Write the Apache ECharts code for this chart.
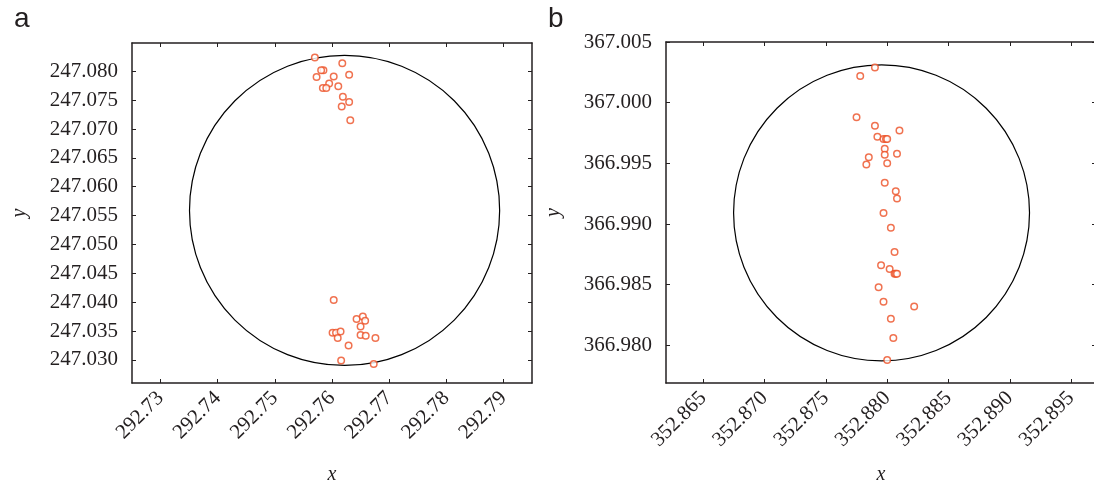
<!DOCTYPE html>
<html>
<head>
<meta charset="utf-8">
<script src="https://cdn.jsdelivr.net/npm/echarts@6/dist/echarts.min.js"></script>
<style>
  html, body { margin: 0; padding: 0; background: #fff; }
  #main { width: 1094px; height: 485px; }
</style>
</head>
<body>
<div id="main"></div>
<script>
// panel a measurements
var aPoints = [
	[292.7570, 247.0824], [292.7618, 247.0814], [292.7585, 247.0802], [292.7581, 247.0802],
	[292.7573, 247.0790], [292.7630, 247.0794], [292.7603, 247.0791], [292.7595, 247.0779],
	[292.7584, 247.0771], [292.7590, 247.0771], [292.7611, 247.0774], [292.7619, 247.0756],
	[292.7630, 247.0747], [292.7617, 247.0739], [292.7632, 247.0715],
	[292.7603, 247.0404], [292.7643, 247.0371], [292.7654, 247.0375], [292.7658, 247.0368],
	[292.7650, 247.0358], [292.7601, 247.0347], [292.7607, 247.0347], [292.7615, 247.0349],
	[292.7610, 247.0338], [292.7650, 247.0343], [292.7659, 247.0342], [292.7676, 247.0338],
	[292.7629, 247.0325], [292.7616, 247.0299], [292.7673, 247.0293]
]
var aCircle = [292.7622, 247.0559, 0.0270] // centre x, centre y, radius
var aXTicks = [292.73, 292.74, 292.75, 292.76, 292.77, 292.78, 292.79]
var aYTicks = [247.030, 247.035, 247.040, 247.045, 247.050, 247.055, 247.060, 247.065, 247.070, 247.075, 247.080]

// panel b measurements
var bPoints = [
	[352.8790, 367.0029], [352.8778, 367.0022], [352.8775, 366.9988], [352.8790, 366.9981],
	[352.8810, 366.9977], [352.8792, 366.9972], [352.8797, 366.9970], [352.8799, 366.9970],
	[352.8800, 366.9970], [352.8798, 366.9962], [352.8808, 366.9958], [352.8798, 366.9957],
	[352.8785, 366.9955], [352.8800, 366.9950], [352.8783, 366.9949], [352.8798, 366.9934],
	[352.8807, 366.9927], [352.8808, 366.9921], [352.8797, 366.9909], [352.8803, 366.9897],
	[352.8806, 366.9877], [352.8795, 366.9866], [352.8802, 366.9863], [352.8806, 366.9859],
	[352.8807, 366.9859], [352.8808, 366.9859], [352.8793, 366.9848], [352.8797, 366.9836],
	[352.8822, 366.9832], [352.8803, 366.9822], [352.8805, 366.9806], [352.8800, 366.9788]
]
var bCircle = [352.87954, 366.99092, 0.01213]
var bXTicks = [352.865, 352.870, 352.875, 352.880, 352.885, 352.890, 352.895]
var bYTicks = [366.980, 366.985, 366.990, 366.995, 367.000, 367.005]

var labelFont = "'Liberation Serif', 'Times New Roman', serif"
var dark = '#231f20'
var red = '#ec4f24'

function makeAxis(dim, grid, pos, range, ticks, digits, showLabel, name) {
	var ax = {
		type: 'value',
		gridIndex: grid,
		position: pos,
		min: range[0],
		max: range[1],
		scale: true,
		splitLine: { show: false },
		axisLine: { show: true, onZero: false, lineStyle: { color: dark, width: 1.5 } },
		axisTick: { show: true, inside: true, length: 4, customValues: ticks, lineStyle: { color: dark, width: 1 } },
		axisLabel: {
			show: showLabel,
			customValues: ticks,
			color: dark,
			fontFamily: labelFont,
			fontSize: 21,
			margin: dim === 'x' ? 12 : 14,
			rotate: dim === 'x' ? 45 : 0,
			formatter: function (v) { return Number(v).toFixed(digits) }
		}
	}
	if (name) {
		ax.name = name
		ax.nameLocation = 'middle'
		ax.nameGap = dim === 'x' ? 82 : 102
		ax.nameTextStyle = { fontFamily: labelFont, fontStyle: 'italic', fontSize: 20, color: dark }
	}
	return ax
}

function circleItem(params, api) {
	var c = api.coord([api.value(0), api.value(1)])
	var s = api.size([api.value(2), api.value(2)])
	return {
		type: 'circle',
		shape: { cx: c[0], cy: c[1], r: (s[0] + s[1]) / 2 },
		style: { fill: 'none', stroke: '#000', lineWidth: 1.2 }
	}
}

var chart = echarts.init(document.getElementById('main'))
chart.setOption({
	backgroundColor: '#fff',
	animation: false,
	title: [
		{ text: 'a', left: 9, top: 0, textStyle: { fontFamily: 'Liberation Sans', fontWeight: 'normal', fontSize: 28, color: dark } },
		{ text: 'b', left: 543, top: 0, textStyle: { fontFamily: 'Liberation Sans', fontWeight: 'normal', fontSize: 28, color: dark } }
	],
	grid: [
		{ left: 132, top: 43, width: 400, height: 340, containLabel: false, outerBoundsMode: 'none' },
		{ left: 666, top: 42, width: 430, height: 341, containLabel: false, outerBoundsMode: 'none' }
	],
	xAxis: [
		makeAxis('x', 0, 'bottom', [292.725, 292.795], aXTicks, 2, true, 'x'),
		makeAxis('x', 0, 'top', [292.725, 292.795], aXTicks, 2, false),
		makeAxis('x', 1, 'bottom', [352.86196, 352.89703], bXTicks, 3, true, 'x'),
		makeAxis('x', 1, 'top', [352.86196, 352.89703], bXTicks, 3, false)
	],
	yAxis: [
		makeAxis('y', 0, 'left', [247.0260, 247.0849], aYTicks, 3, true, 'y'),
		makeAxis('y', 0, 'right', [247.0260, 247.0849], aYTicks, 3, false),
		makeAxis('y', 1, 'left', [366.9769, 367.0050], bYTicks, 3, true, 'y'),
		makeAxis('y', 1, 'right', [366.9769, 367.0050], bYTicks, 3, false)
	],
	series: [
		{ type: 'custom', xAxisIndex: 0, yAxisIndex: 0, renderItem: circleItem, data: [aCircle], silent: true },
		{
			type: 'scatter', xAxisIndex: 0, yAxisIndex: 0, data: aPoints,
			symbol: 'circle', symbolSize: 6.5,
			itemStyle: { color: '#fff', borderColor: red, borderWidth: 1.5 }
		},
		{ type: 'custom', xAxisIndex: 2, yAxisIndex: 2, renderItem: circleItem, data: [bCircle], silent: true },
		{
			type: 'scatter', xAxisIndex: 2, yAxisIndex: 2, data: bPoints,
			symbol: 'circle', symbolSize: 6.5,
			itemStyle: { color: '#fff', borderColor: red, borderWidth: 1.5 }
		}
	]
})
</script>
</body>
</html>
